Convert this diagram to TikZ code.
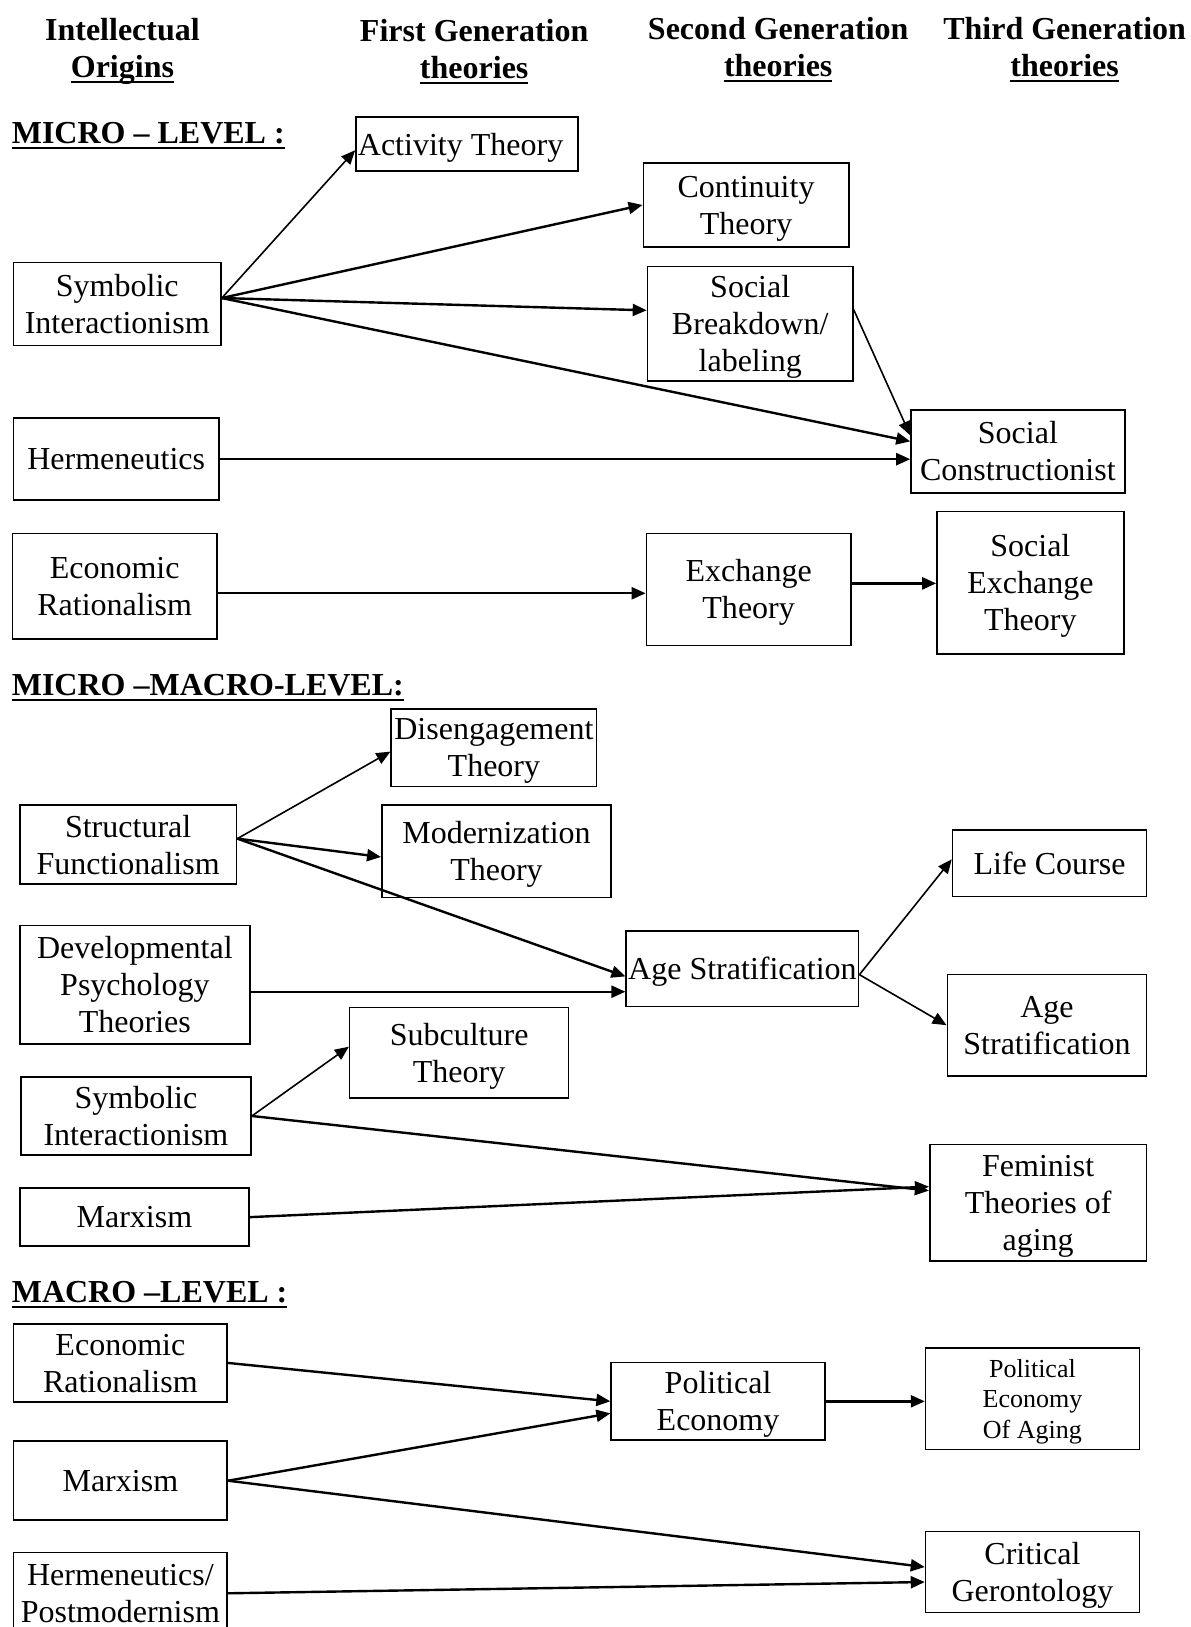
\documentclass[tikz,border=0pt]{standalone}
\usepackage{fontspec}
\setmainfont{Liberation Serif}
\usetikzlibrary{arrows.meta,positioning}
\newcommand{\UnitPx}{0.51875pt}
\tikzset{
  tbox/.style={draw, line width=0.8pt, inner sep=1pt, align=center, text depth=0pt, font=\fontsize{16}{18.5}\selectfont},
  head/.style={align=center, inner sep=0pt, font=\fontsize{16}{18.2}\selectfont\bfseries},
  level/.style={anchor=base west, inner sep=0pt, font=\fontsize{16}{17.5}\selectfont\bfseries},
  link/.style={-{Triangle[length=7pt,width=6pt]}, line width=1.2pt},
  thinlink/.style={link, line width=0.8pt}
}
\newcommand{\Uline}[1]{\setbox0\hbox{#1}\rlap{\rule[-2.8pt]{\wd0}{1.1pt}}\box0}
% box from left/top/right/bottom in picture units
\newcommand{\TheoryBox}[7][]{%
  \node[tbox, #1, minimum width={(#5-#3)*\UnitPx}, minimum height={(#6-#4)*\UnitPx}] (#2) at ({(#3+#5)/2},{(#4+#6)/2}) {#7};%
}

\begin{document}
\begin{tikzpicture}[x=\UnitPx, y=-\UnitPx]
  \useasboundingbox (0,0) rectangle (1147,1568);
  % column heads
  \node[head] (hOrig) at (118,49.5) {Intellectual\\\Uline{Origins}};
  \node[head] (hFirst) at (457,50) {First Generation\\\Uline{theories}};
  \node[head] (hSecond) at (750,48) {Second Generation\\\Uline{theories}};
  \node[head] (hThird) at (1026,48) {Third Generation\\\Uline{theories}};

  % micro level
  \node[level] (lvMicro) at (11,138.5) {\Uline{MICRO – LEVEL :}};
  \TheoryBox[align=flush left, text width=109pt]{act}{343}{113}{557}{165}{Activity Theory}
  \TheoryBox{cont}{620}{157}{818}{238}{Continuity\\Theory}
  \TheoryBox{sbl}{624}{257}{822}{367}{Social\\Breakdown/\\labeling}
  \TheoryBox{symA}{13}{253}{213}{333}{Symbolic\\Interactionism}
  \TheoryBox{scon}{878}{395}{1084}{475}{Social\\Constructionist}
  \TheoryBox{herm}{13}{403}{211}{482}{Hermeneutics}
  \TheoryBox{econA}{12}{514}{209}{616}{Economic\\Rationalism}
  \TheoryBox{exch}{623}{514}{820}{622}{Exchange\\Theory}
  \TheoryBox{sexch}{903}{493}{1083}{630}{Social\\Exchange\\Theory}
  \draw[thinlink] ([yshift=3pt]symA.east) -- ([yshift=-3pt]act.west);
  \draw[link] ([yshift=3pt]symA.east) -- (cont.west);
  \draw[link] ([yshift=3pt]symA.east) -- ([yshift=6.7pt]sbl.west);
  \draw[link] ([yshift=3pt]symA.east) -- ([yshift=5pt]scon.west);
  \draw[thinlink] ([yshift=7pt]sbl.east) -- ([yshift=8pt]scon.west);
  \draw[link] (herm.east) -- (herm.east -| scon.west);
  \draw[link] ([yshift=-3.5pt]econA.east) -- ([yshift=-3.5pt]econA.east -| exch.west);
  \draw[link] ([yshift=3pt]exch.east) -- ([yshift=3pt]exch.east -| sexch.west);

  % micro-macro level
  \node[level] (lvMid) at (11,670.5) {\Uline{MICRO –MACRO-LEVEL:}};
  \TheoryBox{dis}{377}{683}{575}{758}{Disengagement\\Theory}
  \TheoryBox{mod}{368}{776}{589}{865}{Modernization\\Theory}
  \TheoryBox{sf}{19}{776}{228}{852}{Structural\\Functionalism}
  \TheoryBox{life}{918}{800}{1105}{864}{Life Course}
  \TheoryBox{dev}{19}{892}{241}{1006}{Developmental\\Psychology\\Theories}
  \TheoryBox{ageA}{604}{897}{827}{970}{Age Stratification}
  \TheoryBox{ageB}{913}{939}{1105}{1037}{Age\\Stratification}
  \TheoryBox{sub}{337}{971}{548}{1058}{Subculture\\Theory}
  \TheoryBox{symB}{20}{1038}{242}{1113}{Symbolic\\Interactionism}
  \TheoryBox{marxA}{19}{1145}{240}{1201}{Marxism}
  \TheoryBox{fem}{896}{1103}{1105}{1215}{Feminist\\Theories of\\aging}
  \draw[thinlink] ([yshift=3pt]sf.east) -- ([yshift=-2pt]dis.west);
  \draw[link] ([yshift=3pt]sf.east) -- ([yshift=-2.8pt]mod.west);
  \draw[link] ([yshift=3pt]sf.east) -- ([yshift=-3.9pt]ageA.west);
  \draw[link] ([yshift=-3.5pt]dev.east) -- ([yshift=-3.5pt]dev.east -| ageA.west);
  \draw[thinlink] ([yshift=-3pt]ageA.east) -- ([yshift=2pt]life.west);
  \draw[thinlink] ([yshift=-3pt]ageA.east) -- (ageB.west);
  \draw[thinlink] (symB.east) -- ([yshift=3pt]sub.west);
  \draw[link] (symB.east) -- ([yshift=6pt]fem.west);
  \draw[link] (marxA.east) -- ([yshift=8pt]fem.west);

  % macro level
  \node[level] (lvMacro) at (11,1255.5) {\Uline{MACRO –LEVEL :}};
  \TheoryBox{econB}{13}{1276}{219}{1351}{Economic\\Rationalism}
  \TheoryBox{pe}{589}{1313}{795}{1388}{Political\\Economy}
  \TheoryBox[font=\fontsize{13}{15.3}\selectfont]{pea}{892}{1299}{1098}{1397}{Political\\Economy\\Of Aging}
  \TheoryBox{marxB}{13}{1389}{219}{1465}{Marxism}
  \TheoryBox{crit}{892}{1476}{1098}{1554}{Critical\\Gerontology}
  \TheoryBox{hp}{13}{1496}{219}{1575}{Hermeneutics/\\Postmodernism}
  \draw[link] (econB.east) -- (pe.west);
  \draw[link] (marxB.east) -- ([yshift=-6pt]pe.west);
  \draw[link] (pe.east) -- (pe.east -| pea.west);
  \draw[link] (marxB.east) -- ([yshift=2.5pt]crit.west);
  \draw[link] (hp.east) -- ([yshift=-5pt]crit.west);
\end{tikzpicture}
\end{document}
